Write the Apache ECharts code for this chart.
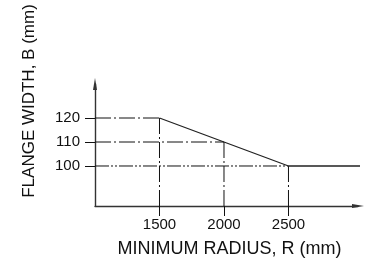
<!DOCTYPE html>
<html>
<head>
<meta charset="utf-8">
<script src="https://cdn.jsdelivr.net/npm/echarts@6/dist/echarts.min.js"></script>
<style>
html,body{margin:0;padding:0;background:#fff;}
#chart{width:369px;height:264px;}
</style>
</head>
<body>
<div id="chart"></div>
<script>
// Data
const radius = [1500, 2000, 2500];      // R (mm) at the break points
const flangeWidth = [120, 110, 100];    // B (mm) at those points
const tailRadius = 3100;                // flat part continues to the right edge
const xTicks = [1500, 2000, 2500];
const yTicks = [100, 110, 120];
const xMin = 1000, xMax = 3039;
const yMin = 83.33, yMax = 134.17;

const FONT = '"Liberation Sans", Arial, Helvetica, sans-serif';
const dashDot = [16, 3, 2, 3];
const dashDotDot = [14, 2, 2, 2, 2, 2];

const guideSeries = [];
radius.forEach((r, i) => {
  const b = flangeWidth[i];
  guideSeries.push({
    type: 'line', silent: true, symbol: 'none', animation: false,
    data: [[xMin, b], [r, b]],
    lineStyle: { color: '#111', width: 1, type: b === 100 ? dashDotDot : dashDot }
  });
  guideSeries.push({
    type: 'line', silent: true, symbol: 'none', animation: false,
    data: [[r, yMin], [r, b]],
    lineStyle: { color: '#111', width: 1, type: dashDot }
  });
});

const mainData = radius.map((r, i) => [r, flangeWidth[i]]).concat([[tailRadius, flangeWidth[flangeWidth.length - 1]]]);

const chart = echarts.init(document.getElementById('chart'), null, { renderer: 'canvas' });
chart.setOption({
  animation: false,
  backgroundColor: '#fff',
  grid: { left: 95, right: 11, top: 84, bottom: 58, containLabel: false },
  xAxis: {
    type: 'value', min: xMin, max: xMax,
    name: 'MINIMUM RADIUS, R (mm)', nameLocation: 'middle', nameGap: 34,
    nameTextStyle: { fontFamily: FONT, fontSize: 18, color: '#111', padding: [0, 0, 0, 6] },
    axisLine: { show: true, onZero: false, symbol: ['none', 'triangle'], symbolSize: [4, 12],
      lineStyle: { color: '#333', width: 1.4 } },
    axisTick: { show: true, inside: false, length: 10, customValues: xTicks, lineStyle: { color: '#111', width: 1 } },
    axisLabel: { customValues: xTicks, formatter: v => String(v), margin: 11, fontFamily: FONT, fontSize: 15, color: '#111' },
    splitLine: { show: false }
  },
  yAxis: {
    type: 'value', min: yMin, max: yMax,
    name: 'FLANGE WIDTH, B (mm)', nameLocation: 'middle', nameGap: 57, nameRotate: 90,
    nameTextStyle: { fontFamily: FONT, fontSize: 17, color: '#111', padding: [0, 0, 0, 88] },
    axisLine: { show: true, onZero: false, symbol: ['none', 'triangle'], symbolSize: [4, 12],
      lineStyle: { color: '#333', width: 1.4 } },
    axisTick: { show: true, inside: false, length: 10, customValues: yTicks, lineStyle: { color: '#111', width: 1 } },
    axisLabel: { customValues: yTicks, formatter: v => String(v), margin: 15, fontFamily: FONT, fontSize: 15, color: '#111' },
    splitLine: { show: false }
  },
  series: guideSeries.concat([{
    type: 'line', silent: true, symbol: 'none', animation: false, clip: false,
    data: mainData,
    lineStyle: { color: '#222', width: 1.3 }
  }])
});
</script>
</body>
</html>
